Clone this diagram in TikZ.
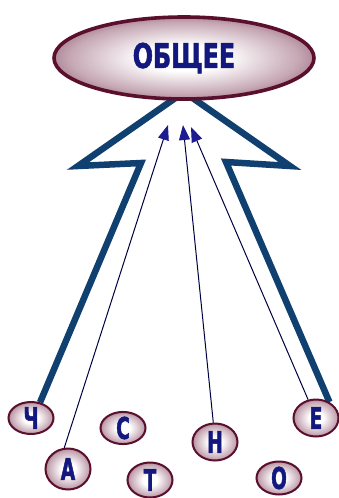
\documentclass[tikz,border=0pt]{standalone}
\usepackage{fontspec}
\setmainfont{Liberation Sans}
\newfontfamily\capsfont{DejaVu Sans}[FakeStretch=0.7, BoldFeatures={FakeBold=1.5}]
\newfontfamily\narrowfont{DejaVu Sans}[FakeStretch=0.62, BoldFeatures={FakeBold=1.5}]
\usetikzlibrary{arrows.meta, shapes.geometric, backgrounds}

\definecolor{ovalline}{RGB}{90,15,45}
\definecolor{ovalfill}{RGB}{140,80,105}
\definecolor{letterblue}{RGB}{18,24,125}
\definecolor{arrowblue}{RGB}{16,64,112}
\definecolor{tipblue}{RGB}{28,28,145}
\pgfdeclareradialshading{ovalshade}{\pgfpoint{0bp}{0bp}}{color(0bp)=(white); color(8bp)=(white); color(22bp)=(ovalfill!50!white); color(31bp)=(ovalfill); color(50bp)=(ovalfill)}

\begin{document}
\begin{tikzpicture}[
    x=1pt, y=-1pt,
    oval/.style={ellipse, draw=ovalline, shade, shading=ovalshade, inner sep=0pt},
    head/.style={oval, line width=3.6pt, minimum width=260pt, minimum height=82pt,
                 text=letterblue, font=\capsfont\bfseries\fontsize{34}{34}\selectfont},
    letter/.style={oval, line width=2pt, minimum width=45pt, minimum height=34pt,
                   text=letterblue, font=\narrowfont\bfseries\fontsize{30}{30}\selectfont},
    bigarr/.style={draw=arrowblue, line width=6.5pt, line join=miter},
    thinarr/.style={draw=black!75!blue, line width=1pt,
                    -{Triangle[length=15pt, width=11pt, color=tipblue]}},
  ]
    \useasboundingbox (0,0) rectangle (339,498);

    \node[head] (gen) at (184,58) {ОБЩЕЕ};

    \node[letter, minimum height=32pt] (ch) at (31,418) {Ч};
    \node[letter, minimum height=41pt] (a) at (68,469) {А};
    \node[letter, minimum height=30pt] (s) at (123,428) {С};
    \node[letter, minimum height=35pt] (t) at (150,480) {Т};
    \node[letter, minimum height=37pt] (n) at (215,442) {Н};
    \node[letter, minimum height=33pt] (o) at (279,478) {О};
    \node[letter, minimum height=37pt] (e) at (316,418) {Е};

    \coordinate (lcorner) at (141,163);
    \coordinate (lwing) at (78,166);
    \coordinate (apex) at (184,92);
    \coordinate (rwing) at (290,166);
    \coordinate (rcorner) at (226,162);

    \coordinate (tipa) at (168,125);
    \coordinate (tipn) at (183,125);
    \coordinate (tipe) at (191,127);

    \begin{scope}[on background layer]
      \draw[bigarr] (ch.60) -- (lcorner) -- (lwing) -- (apex)
        -- (rwing) -- (rcorner) -- (e.50);
    \end{scope}

    \draw[thinarr] (a.100) -- (tipa);
    \draw[thinarr] (n.95) -- (tipn);
    \draw[thinarr] (e) -- (tipe);
  \end{tikzpicture}
\end{document}
